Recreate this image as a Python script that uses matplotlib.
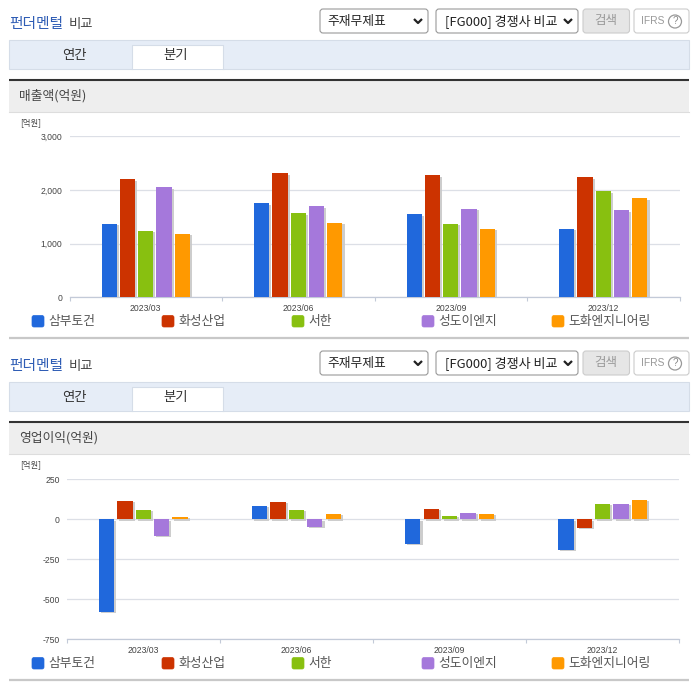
import matplotlib
matplotlib.use('Agg')
import matplotlib.pyplot as plt
import matplotlib.patheffects as pe
from matplotlib.patches import Rectangle, FancyBboxPatch, Circle

plt.rcParams['font.family'] = ['Noto Sans CJK KR', 'DejaVu Sans']

quarters = ['2023/03', '2023/06', '2023/09', '2023/12']
companies = ['삼부토건', '화성산업', '서한', '성도이엔지', '도화엔지니어링']
colors = ['#2068dc', '#cc3300', '#88c010', '#a578db', '#ff9900']

# 매출액 (억원), one list per company
sales_sambu = [1375, 1750, 1545, 1280]
sales_hwaseong = [2200, 2310, 2275, 2240]
sales_seohan = [1245, 1565, 1375, 1975]
sales_seongdo = [2050, 1695, 1655, 1620]
sales_dohwa = [1190, 1395, 1280, 1845]

# 영업이익 (억원)
profit_sambu = [-579, 83, -154, -192]
profit_hwaseong = [115, 108, 65, -54]
profit_seohan = [58, 58, 21, 96]
profit_seongdo = [-104, -48, 40, 96]
profit_dohwa = [15, 33, 33, 121]

sales = [sales_sambu, sales_hwaseong, sales_seohan, sales_seongdo, sales_dohwa]
profit = [profit_sambu, profit_hwaseong, profit_seohan, profit_seongdo, profit_dohwa]

W, H = 696, 684
fig = plt.figure(figsize=(W / 100, H / 100), dpi=100, facecolor='white')

# 화면 전체를 픽셀 좌표로 쓰는 배경 축
bg = fig.add_axes([0, 0, 1, 1])
bg.set_xlim(0, W)
bg.set_ylim(H, 0)
bg.axis('off')


def box(x0, y0, x1, y1, face, edge, round_px=3, lw=0.8):
    bg.add_patch(FancyBboxPatch((x0, y0), x1 - x0, y1 - y0,
                                boxstyle='round,pad=0,rounding_size=%s' % round_px,
                                fc=face, ec=edge, lw=lw))


def chevron(x, y):
    bg.plot([x - 4, x, x + 4], [y - 2, y + 2, y - 2], color='#222222', lw=1.6,
            solid_capstyle='butt')


def panel_chrome(dy, section):
    bg.text(9, 24 + dy, '펀더멘털', fontsize=10.6, color='#2f5db5', va='center', weight='medium')
    bg.text(69, 24 + dy, '비교', fontsize=9.6, color='#444444', va='center', weight='medium')

    box(320, 9 + dy, 428, 33 + dy, 'white', '#999999')
    bg.text(327, 21 + dy, '주재무제표', fontsize=9.2, color='#222222', va='center')
    chevron(418, 21 + dy)
    box(436, 9 + dy, 578, 33 + dy, 'white', '#999999')
    bg.text(445, 21 + dy, '[FG000] 경쟁사 비교', fontsize=9.4, color='#222222', va='center')
    chevron(568, 21 + dy)
    box(583, 9 + dy, 629.5, 33 + dy, '#e6e6e6', '#cccccc')
    bg.text(606, 20.5 + dy, '검색', fontsize=9, color='#999999', va='center', ha='center')
    box(634, 9 + dy, 689, 33 + dy, 'white', '#cccccc')
    bg.text(641, 21 + dy, 'IFRS', fontsize=7.4, color='#999999', va='center',
            family='Liberation Sans')
    bg.add_patch(Circle((675, 21.5 + dy), 6.5, fc='white', ec='#999999', lw=0.9))
    bg.text(675, 21.5 + dy, '?', fontsize=7, color='#888888', va='center', ha='center',
            family='Liberation Sans')

    # 탭
    bg.add_patch(Rectangle((9, 39.5 + dy), 680, 29, fc='#e6edf7', ec='#d5dde8', lw=0.8))
    bg.add_patch(Rectangle((131.5, 44.5 + dy), 91, 24.5, fc='white', ec='none'))
    bg.plot([131.5, 131.5, 222.5, 222.5], [68.5 + dy, 44.5 + dy, 44.5 + dy, 68.5 + dy],
            color='#d5dde8', lw=0.8)
    bg.text(74, 55 + dy, '연간', fontsize=9.6, color='#333333', va='center', ha='center')
    bg.text(176, 55 + dy, '분기', fontsize=9.6, color='#333333', va='center', ha='center')

    # 섹션 제목
    bg.add_patch(Rectangle((9, 81 + dy), 680, 30.5, fc='#eeeeee', ec='none'))
    bg.plot([9, 689], [111.5 + dy, 111.5 + dy], color='#dddddd', lw=0.8)
    bg.plot([9, 689], [80 + dy, 80 + dy], color='#333333', lw=1.5, solid_capstyle='butt')
    bg.text(19, 96 + dy, section, fontsize=9.2, color='#444444', va='center')
    bg.text(20, 123 + dy, '[억원]', fontsize=6, color='#444444', va='center')

    # 범례
    for x, name, c in zip([32, 162, 292, 422, 552], companies, colors):
        box(x, 315.5 + dy, x + 12, 327 + dy, c, c, round_px=2, lw=0.5)
        bg.text(x + 16.5, 321 + dy, name, fontsize=9.2, color='#555555', va='center')

    bg.plot([9, 689], [337.5 + dy, 337.5 + dy], color='#c8c8c8', lw=1.6, solid_capstyle='butt')


def chart(left, right, top, bottom, series, ylim, yticks, ylabels):
    ax = fig.add_axes([left / W, 1 - bottom / H, (right - left) / W, (bottom - top) / H])
    ax.patch.set_alpha(0)
    shadow = [pe.SimplePatchShadow(offset=(1.5, -1), shadow_rgbFace='#c8c8c8', alpha=0.9),
              pe.Normal()]
    for j, vals in enumerate(series):
        xs = [i + (j - 2) * 0.12 for i in range(len(quarters))]
        ax.bar(xs, vals, width=0.1, color=colors[j], zorder=3, path_effects=shadow)
    ax.set_xlim(-0.5, 3.5)
    ax.set_ylim(*ylim)
    ax.set_yticks(yticks, ylabels)
    ax.set_xticks(range(len(quarters)), quarters)
    ax.set_xticks([-0.5, 0.5, 1.5, 2.5, 3.5], minor=True)
    ax.grid(axis='y', color='#dcdfe6', lw=0.9, zorder=0)
    for s in ['top', 'right', 'left']:
        ax.spines[s].set_visible(False)
    ax.spines['bottom'].set_color('#c3cad8')
    ax.spines['bottom'].set_linewidth(0.9)
    ax.tick_params(axis='y', length=0, pad=5, labelsize=6.2, labelcolor='#444444')
    ax.tick_params(axis='x', which='major', length=0, pad=4.5, labelsize=6.2, labelcolor='#444444')
    ax.tick_params(axis='x', which='minor', length=3, width=0.8, color='#c3cad8')
    for t in ax.get_xticklabels() + ax.get_yticklabels():
        t.set_family('Liberation Sans')
    return ax


panel_chrome(0, '매출액(억원)')
panel_chrome(342, '영업이익(억원)')

chart(69.5, 679.5, 136.5, 297.3, sales, (0, 3000), [0, 1000, 2000, 3000],
      ['0', '1,000', '2,000', '3,000'])
chart(66.7, 679.3, 479.3, 639.3, profit, (-750, 250), [-750, -500, -250, 0, 250],
      ['-750', '-500', '-250', '0', '250'])

fig.savefig('out.png', dpi=100)
